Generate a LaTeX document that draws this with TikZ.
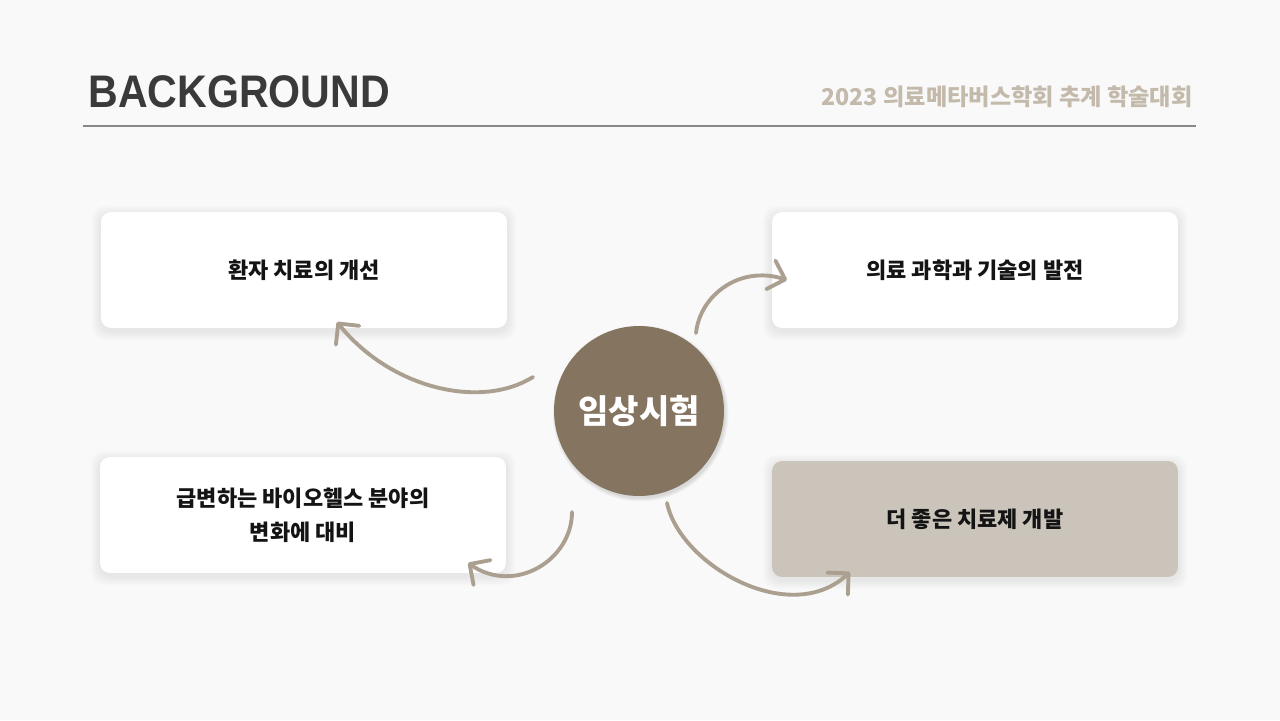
\documentclass[tikz,border=0pt]{standalone}
\usepackage{fontspec}
\setmainfont{Liberation Sans}
\newfontfamily\titlefont{Liberation Sans}[FakeStretch=0.9]
\newfontfamily\krfont{Noto Sans CJK KR}
\usepackage{tikz}
\usetikzlibrary{arrows.meta, positioning, backgrounds, calc}
\definecolor{pagegray}{RGB}{249,249,249}
\definecolor{titlegray}{RGB}{58,58,58}
\definecolor{rulegray}{RGB}{136,136,136}
\definecolor{eventtan}{RGB}{196,186,172}
\definecolor{hubbrown}{RGB}{133,117,96}
\definecolor{cardtan}{RGB}{203,196,186}
\definecolor{flowtan}{RGB}{171,159,144}
\definecolor{inkblack}{RGB}{20,20,20}

\begin{document}
\begin{tikzpicture}[
    x=0.02cm, y=-0.02cm,
    card/.style={fill=white, rounded corners=0.2cm, minimum width=8.12cm, minimum height=2.32cm,
        align=center, text=inkblack, font=\krfont\bfseries\fontsize{12.5}{19.5}\selectfont},
    hub/.style={circle, fill=hubbrown, minimum size=3.4cm, inner sep=0pt, text=white,
        font=\krfont\bfseries\fontsize{18.8}{22}\selectfont},
    flow/.style={draw=flowtan, line width=2.2pt, line cap=round,
        -{Straight Barb[round, length=0.3cm, width=0.6cm]}}
]

% Background
\begin{scope}[on background layer]
\fill[pagegray] (0,0) rectangle (1280,720);
\end{scope}

% Header
\node[anchor=west, inner sep=0pt, text=titlegray, font=\titlefont\bfseries\fontsize{26}{30}\selectfont] (title) at (88,92) {BACKGROUND};
\node[anchor=east, inner sep=0pt, text=eventtan, font=\krfont\bfseries\fontsize{13.2}{15}\selectfont] (event) at (1193,97) {2023 의료메타버스학회 추계 학술대회};
\draw[rulegray, line width=0.7pt] (83,126) -- (1196,126);

% Cards
\node[card] (care) at (304,270) {환자 치료의 개선};
\node[card] (science) at (975,270) {의료 과학과 기술의 발전};
\node[card] (bio) at (303,515) {급변하는 바이오헬스 분야의\\변화에 대비};
\node[card, fill=cardtan] (drug) at (975,519) {더 좋은 치료제 개발};

% Hub
\node[hub] (trial) at (639,411) {임상시험};

% Soft shadows
\begin{scope}[on background layer]
\foreach \n in {care,science,bio,drug}{
  \foreach \i in {1,...,9}{
    \fill[black, opacity=0.006, rounded corners=0.25cm]
      ($(\n.south west)+(-\i,\i+3)$) rectangle ($(\n.north east)+(\i,3-\i)$);
  }
}
\foreach \i in {1,...,4}{
  \fill[black, opacity=0.03] ($(trial)+(1.5,2.5)$) circle[radius=84+\i];
}
\end{scope}

% Arrow ends
\coordinate (careS) at (533,377);
\coordinate (careE) at (337,322);
\coordinate (sciS) at (696,333);
\coordinate (sciE) at (787,280);
\coordinate (bioS) at (572,512);
\coordinate (bioE) at (468,563);
\coordinate (drugS) at (667,503);
\coordinate (drugE) at (850,572);

% Arrows
\draw[flow] (careS) .. controls (480,410) and (390,388) .. (careE);
\draw[flow] (sciS) .. controls (700,295) and (740,265) .. (sciE);
\draw[flow] (bioS) .. controls (572,560) and (515,595) .. (bioE);
\draw[flow] (drugS) .. controls (680,565) and (790,628) .. (drugE);

\end{tikzpicture}
\end{document}
